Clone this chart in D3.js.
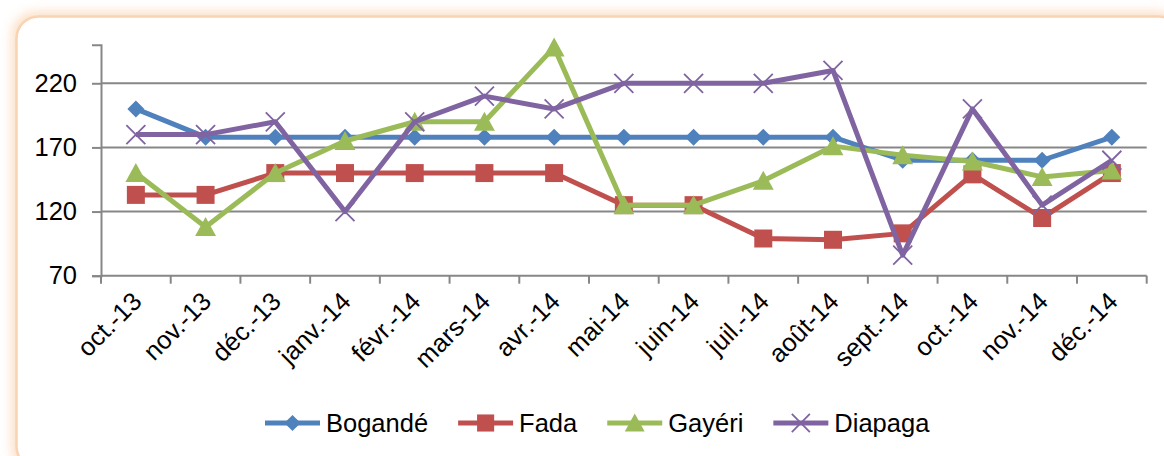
<!DOCTYPE html>
<html>
<head>
<meta charset="utf-8">
<script src="https://cdn.jsdelivr.net/npm/d3@7"></script>
<style>
  html, body { margin: 0; padding: 0; background: #ffffff; }
  svg { display: block; }
  text { font-family: "Liberation Sans", Arial, sans-serif; fill: #000; }
</style>
</head>
<body>
<svg id="chart" width="1164" height="456"></svg>
<script>
const categories = ["oct.-13","nov.-13","déc.-13","janv.-14","févr.-14","mars-14","avr.-14","mai-14","juin-14","juil.-14","août-14","sept.-14","oct.-14","nov.-14","déc.-14"];
const bogande = [200,178,178,178,178,178,178,178,178,178,178,160,160,160,178];
const fada    = [133,133,150,150,150,150,150,125,125,99,98,103,149,115,150];
const gayeri  = [150,108,150,175,190,190,248,125,125,144,171,164,159,147,152];
const diapaga = [180,180,190,120,190,210,200,220,220,220,230,86,200,125,160];
const seriesNames = ["Bogandé","Fada","Gayéri","Diapaga"];
const yTicks = [70,120,170,220];
const yDomain = [70,250];

(function () {
const colors = ["#4F81BD","#C0504D","#9BBB59","#8064A2"];
const shapes = ["diamond","square","triangle","cross"];
const seriesData = [bogande, fada, gayeri, diapaga];
const FS = 25.5;

const svg = d3.select("#chart");
const defs = svg.append("defs");
const f = defs.append("filter").attr("id","glow").attr("x","-5%").attr("y","-20%").attr("width","110%").attr("height","140%");
f.append("feGaussianBlur").attr("stdDeviation",6);

// frame
svg.append("rect").attr("x",12).attr("y",12).attr("width",1170).attr("height",460).attr("rx",24)
  .attr("fill","#FAD2AE").attr("opacity",0.75).attr("filter","url(#glow)");
svg.append("rect").attr("x",16.5).attr("y",16.5).attr("width",1164).attr("height",452).attr("rx",22)
  .attr("fill","#ffffff").attr("stroke","#FAD4B2").attr("stroke-width",2.5);

const pL = 101, pR = 1146.7, pT = 44.8, pB = 275.7;
const x = d3.scaleBand().domain(categories).range([pL, pR]).padding(0);
const y = d3.scaleLinear().domain(yDomain).range([pB, pT]);
const axisColor = "#878787";

// gridlines
svg.append("g").selectAll("line").data(yTicks.filter(t => t !== yDomain[0])).join("line")
  .attr("x1", pL).attr("x2", pR).attr("y1", d => y(d)).attr("y2", d => y(d))
  .attr("stroke", axisColor).attr("stroke-width", 2);

// y axis
const yAxis = d3.axisLeft(y).tickValues(yTicks).tickSize(9).tickPadding(15);
const gy = svg.append("g").attr("transform", `translate(${pL},0)`).call(yAxis);
gy.select(".domain").attr("stroke", axisColor).attr("stroke-width", 2);
gy.selectAll(".tick line").attr("stroke", axisColor).attr("stroke-width", 2);
gy.selectAll(".tick text").attr("font-size", FS).attr("font-family", "Liberation Sans, Arial, sans-serif").attr("fill","#000");

// x axis
const gx = svg.append("g").attr("transform", `translate(0,${pB})`);
gx.append("line").attr("x1", pL).attr("x2", pR).attr("stroke", axisColor).attr("stroke-width", 2);
const bounds = categories.map(c => x(c)).concat([pR]);
gx.selectAll("line.tk").data(bounds).join("line").attr("class","tk")
  .attr("x1", d => d).attr("x2", d => d).attr("y1", 0).attr("y2", 8)
  .attr("stroke", axisColor).attr("stroke-width", 2);
gx.selectAll("text").data(categories).join("text")
  .attr("transform", d => `translate(${x(d) + x.bandwidth()/2 + 1},21) rotate(-45)`)
  .attr("text-anchor","end").attr("dy","0.35em").attr("font-size", FS)
  .text(d => d);

function symbolPath(shape, s) {
  const h = s/2;
  if (shape === "diamond") return `M0,${-h}L${h},0L0,${h}L${-h},0Z`;
  if (shape === "square") return `M${-h},${-h}H${h}V${h}H${-h}Z`;
  if (shape === "triangle") return `M0,${-h*1.05}L${h*1.1},${h*0.95}L${-h*1.1},${h*0.95}Z`;
  return `M${-h},${-h}L${h},${h}M${h},${-h}L${-h},${h}`;
}
const sizes = [17,18,19,19];

const line = d3.line().x((d,i) => x(categories[i]) + x.bandwidth()/2).y(d => y(d));
seriesData.forEach((vals, si) => {
  const g = svg.append("g");
  g.append("path").datum(vals).attr("d", line).attr("fill","none")
    .attr("stroke", colors[si]).attr("stroke-width", 5).attr("stroke-linejoin","round");
  g.selectAll("path.m").data(vals).join("path").attr("class","m")
    .attr("transform", (d,i) => `translate(${x(categories[i]) + x.bandwidth()/2},${y(d)})`)
    .attr("d", symbolPath(shapes[si], sizes[si]))
    .attr("fill", shapes[si] === "cross" ? "none" : colors[si])
    .attr("stroke", colors[si]).attr("stroke-width", shapes[si] === "cross" ? 1.8 : 0);
});

// legend
const legY = 423;
const lg = svg.append("g");
let cx = 265;
seriesNames.forEach((n, i) => {
  lg.append("line").attr("x1", cx).attr("x2", cx + 55).attr("y1", legY).attr("y2", legY)
    .attr("stroke", colors[i]).attr("stroke-width", 5);
  lg.append("path").attr("transform", `translate(${cx + 27.5},${legY})`)
    .attr("d", symbolPath(shapes[i], sizes[i]*0.95))
    .attr("fill", shapes[i] === "cross" ? "none" : colors[i])
    .attr("stroke", colors[i]).attr("stroke-width", shapes[i] === "cross" ? 1.8 : 0);
  const t = lg.append("text").attr("x", cx + 61).attr("y", legY).attr("dy","0.35em")
    .attr("font-size", FS).text(n);
  cx = cx + 61 + t.node().getComputedTextLength() + 30;
});
})();
</script>
</body>
</html>
